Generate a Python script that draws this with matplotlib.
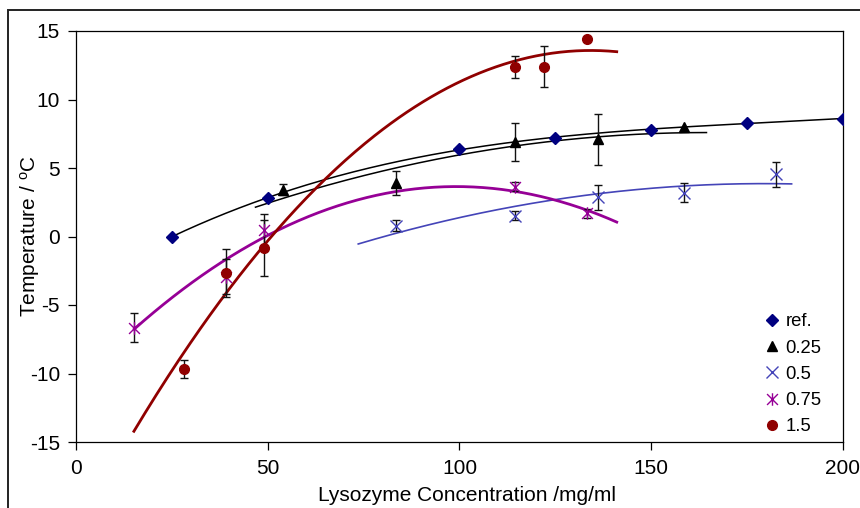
import numpy as np
import matplotlib
matplotlib.use('Agg')
import matplotlib.pyplot as plt
from matplotlib.path import Path
from matplotlib.patches import Rectangle

plt.rcParams['font.family'] = ['Liberation Sans', 'DejaVu Sans']
plt.rcParams['mathtext.fontset'] = 'custom'
plt.rcParams['mathtext.rm'] = 'Liberation Sans'
plt.rcParams['mathtext.it'] = 'Liberation Sans'
plt.rcParams['axes.unicode_minus'] = False

nan = np.nan

# ---- data ----
series_labels = ['ref.', '0.25', '0.5', '0.75', '1.5']

ref_x = [25, 50, 100, 125, 150, 175, 200]
ref_y = [0.0, 2.8, 6.4, 7.2, 7.8, 8.3, 8.6]

c025_x = [54, 83.5, 114.5, 136, 158.5]
c025_y = [3.4, 3.9, 6.9, 7.1, 8.0]
c025_err = [0.4, 0.85, 1.4, 1.85, nan]

c05_x = [83.5, 114.5, 136, 158.5, 182.4]
c05_y = [0.79, 1.52, 2.86, 3.2, 4.54]
c05_err = [0.4, 0.34, 0.92, 0.7, 0.91]

c075_x = [15.2, 39, 49, 114.5, 133.2]
c075_y = [-6.65, -2.93, 0.47, 3.64, 1.69]
c075_err = [1.06, 1.28, 1.2, 0.32, 0.34]

c15_x = [28.1, 39, 49, 114.5, 122.1, 133.2]
c15_y = [-9.67, -2.64, -0.84, 12.37, 12.4, 14.44]
c15_err = [0.66, 1.76, 2.05, 0.78, 1.5, nan]

# trendline shapes (fitted with a polynomial below)
t025_x = [46.8, 83.6, 105.3, 114.5, 135.9, 164.4]
t025_y = [2.2, 4.85, 6.19, 6.73, 7.34, 7.53]
t05_x = [73.6, 105.3, 110.6, 135.9, 158.5, 186.6]
t05_y = [-0.57, 1.74, 2.0, 3.15, 3.59, 3.88]
t075_x = [15.2, 39, 42.8, 49, 83.6, 94.9, 100, 114.5, 133.2, 141]
t075_y = [-6.75, -1.72, -0.9, -0.2, 3.27, 3.59, 3.64, 3.45, 1.81, 1.08]
t15_x = [15.1, 28.1, 39, 49, 80, 87.9, 100, 114.5, 134.8, 141]
t15_y = [-14.18, -8.41, -4.34, -0.62, 7.77, 9.23, 11.55, 12.83, 13.56, 13.44]

x_ticks = [0, 50, 100, 150, 200]
y_ticks = [-15, -10, -5, 0, 5, 10, 15]

# ---- colours ----
c_ref = '#000080'
c_025 = '#000000'
c_05 = '#4444B8'
c_075 = '#960096'
c_15 = '#900000'

W, H = 860, 508
fig = plt.figure(figsize=(W / 100, H / 100), dpi=100)
L, R, T, B = 76, 843, 31, 442
ax = fig.add_axes([L / W, 1 - B / H, (R - L) / W, (B - T) / H])


def trend(xs, ys, deg=2):
    coef = np.polyfit(xs, ys, deg)
    xx = np.linspace(min(xs), max(xs), 300)
    return xx, np.polyval(coef, xx)


# trendlines
xx, yy = trend(ref_x, ref_y, 3)
ax.plot(xx, yy, color='black', lw=1.1, zorder=2)
xx, yy = trend(t025_x, t025_y, 2)
ax.plot(xx, yy, color='black', lw=1.1, zorder=2)
xx, yy = trend(t05_x, t05_y, 2)
ax.plot(xx, yy, color=c_05, lw=1.2, zorder=2)
xx, yy = trend(t075_x, t075_y, 2)
ax.plot(xx, yy, color=c_075, lw=2.0, zorder=2)
xx, yy = trend(t15_x, t15_y, 2)
ax.plot(xx, yy, color=c_15, lw=2.0, zorder=2)

# error bars
eb = dict(fmt='none', ecolor='#111111', elinewidth=1.0, capsize=2.6, capthick=1.0, zorder=3)
ax.errorbar(c025_x, c025_y, yerr=c025_err, **eb)
ax.errorbar(c05_x, c05_y, yerr=c05_err, **eb)
ax.errorbar(c075_x, c075_y, yerr=c075_err, **eb)
ax.errorbar(c15_x, c15_y, yerr=c15_err, **eb)

# asterisk-like marker (x with vertical bar)
star = Path([(-1, -1), (1, 1), (-1, 1), (1, -1), (0, -1.15), (0, 1.15)],
            [Path.MOVETO, Path.LINETO, Path.MOVETO, Path.LINETO, Path.MOVETO, Path.LINETO])

ax.plot(ref_x, ref_y, ls='none', marker='D', ms=6, color=c_ref, label=series_labels[0], zorder=4)
ax.plot(c025_x, c025_y, ls='none', marker='^', ms=6.5, color=c_025, label=series_labels[1], zorder=4)
ax.plot(c05_x, c05_y, ls='none', marker='x', ms=8, mew=1.0, color=c_05, label=series_labels[2], zorder=4)
ax.plot(c075_x, c075_y, ls='none', marker=star, ms=9, mew=1.0, mfc='none', color=c_075,
        label=series_labels[3], zorder=4)
ax.plot(c15_x, c15_y, ls='none', marker='o', ms=7, color=c_15, label=series_labels[4], zorder=4)

ax.set_xlim(0, 200)
ax.set_ylim(-15, 15)
ax.set_xticks(x_ticks)
ax.set_yticks(y_ticks)
ax.tick_params(direction='out', length=5.5, width=0.9, labelsize=15, colors='black')
ax.tick_params(axis='x', pad=7)
ax.tick_params(axis='y', pad=6)
for s in ax.spines.values():
    s.set_linewidth(0.9)
    s.set_color('black')

ax.set_xlabel('Lysozyme Concentration /mg/ml', fontsize=15)
ax.set_ylabel('Temperature / $^{\\mathrm{o}}$C', fontsize=15)
ax.xaxis.set_label_coords(0.51, -0.106)
ax.yaxis.set_label_coords(-0.044, 0.5)

ax.legend(loc='upper left', bbox_to_anchor=(0.900, 0.313), frameon=False,
          handlelength=0.6, handletextpad=0.45, labelspacing=0.5, borderpad=0,
          borderaxespad=0, fontsize=13.3, numpoints=1)

# outer chart border (only top and left edges visible in the crop)
fig.add_artist(Rectangle((8 / W, -0.2), 1.5, 1.2 - 9.5 / H, transform=fig.transFigure,
                         fill=False, lw=1.4, edgecolor='#222222'))

fig.savefig('out.png', dpi=100)
